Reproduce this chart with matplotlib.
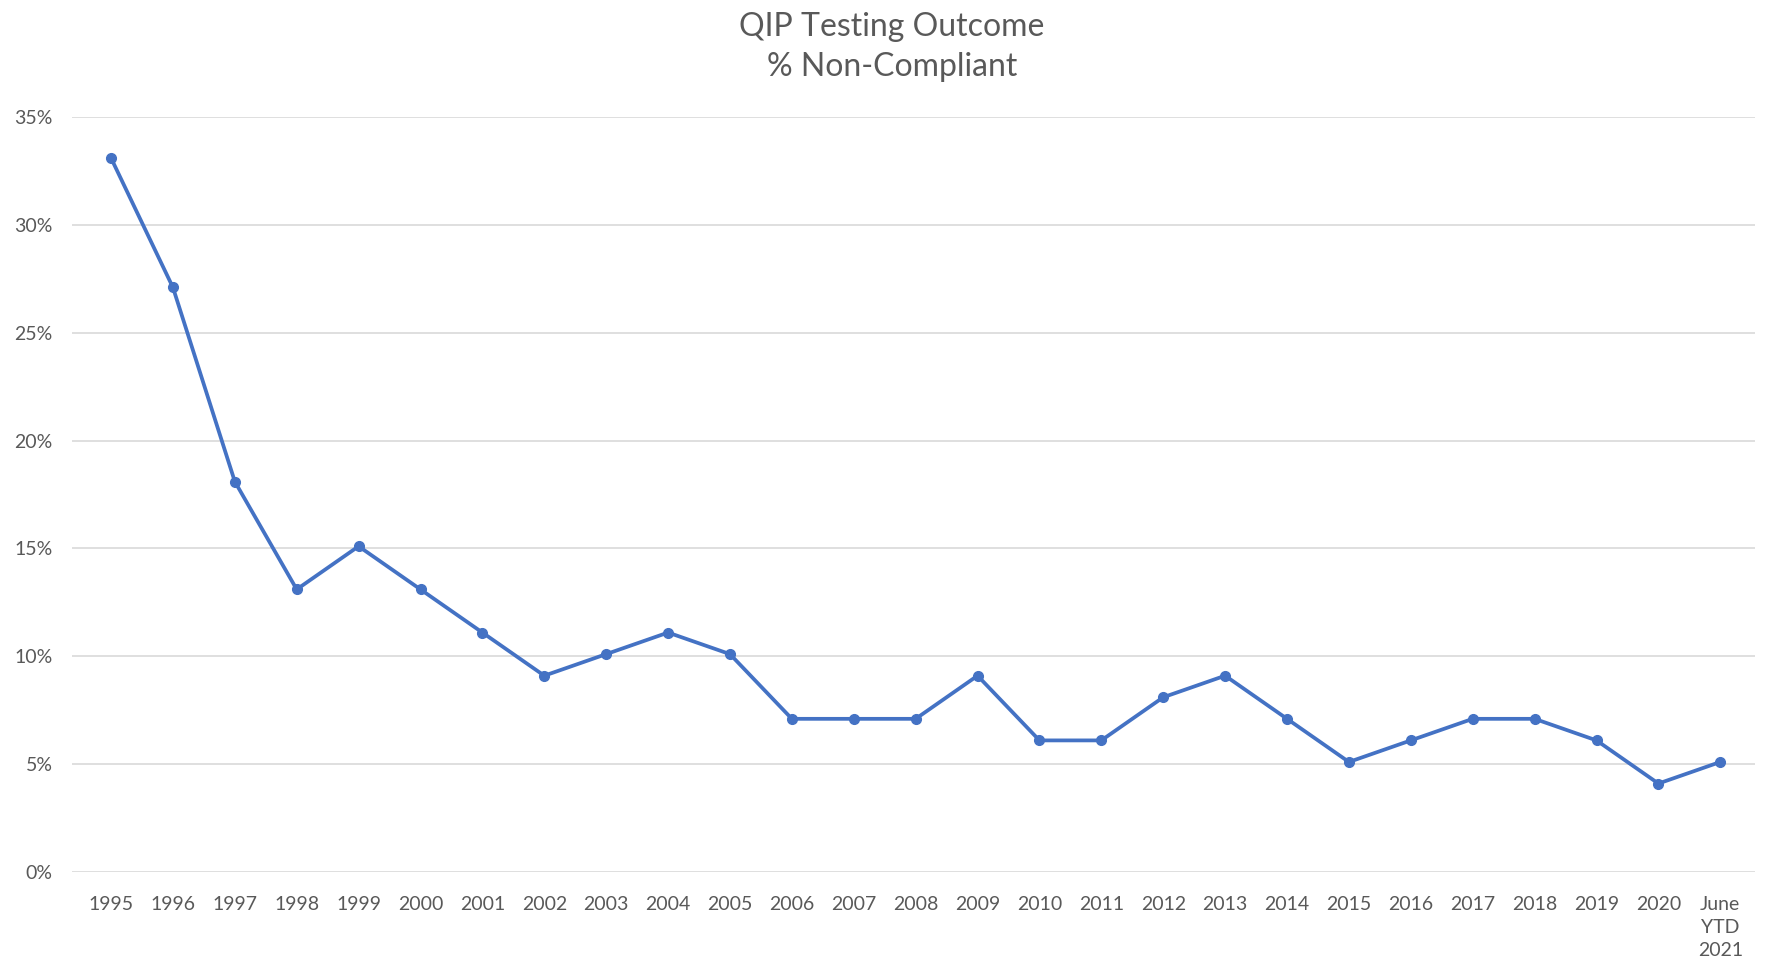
import matplotlib
matplotlib.use("Agg")
import matplotlib.pyplot as plt
from matplotlib.ticker import PercentFormatter

# data
years = ["1995", "1996", "1997", "1998", "1999", "2000", "2001", "2002", "2003",
         "2004", "2005", "2006", "2007", "2008", "2009", "2010", "2011", "2012",
         "2013", "2014", "2015", "2016", "2017", "2018", "2019", "2020",
         "June\nYTD\n2021"]
pct_non_compliant = [33.1, 27.1, 18.1, 13.1, 15.1, 13.1, 11.1, 9.1, 10.1,
                     11.1, 10.1, 7.1, 7.1, 7.1, 9.1, 6.1, 6.1, 8.1,
                     9.1, 7.1, 5.1, 6.1, 7.1, 7.1, 6.1, 4.1, 5.1]
y_ticks = [0, 5, 10, 15, 20, 25, 30, 35]

plt.rcParams['font.family'] = ['Lato', 'DejaVu Sans']

fig = plt.figure(figsize=(17.7, 9.72), dpi=100)
ax = fig.add_axes([0.0407, 0.1029, 0.9508, 0.7767])

x = list(range(len(years)))
ax.plot(x, pct_non_compliant, color="#4472C4", linewidth=2.7,
        marker="o", markersize=7, zorder=3)

ax.set_ylim(0, 35)
ax.set_xlim(-0.63, 26.56)
ax.set_yticks(y_ticks)
ax.yaxis.set_major_formatter(PercentFormatter(decimals=0))
ax.set_xticks(x)
ax.set_xticklabels(years, va="top", linespacing=1.45)

ax.grid(axis="y", color="#D9D9D9", linewidth=1.2)
ax.set_axisbelow(True)
for s in ax.spines.values():
    s.set_visible(False)
ax.tick_params(axis="both", length=0, labelsize=14, colors="#595959")
ax.tick_params(axis="x", pad=17)
ax.tick_params(axis="y", pad=14)

fig.text(0.504, 0.988, "QIP Testing Outcome\n% Non-Compliant", ha="center", va="top",
         fontsize=23, color="#595959", linespacing=1.45)

fig.savefig("out.png", dpi=100, facecolor="white")
